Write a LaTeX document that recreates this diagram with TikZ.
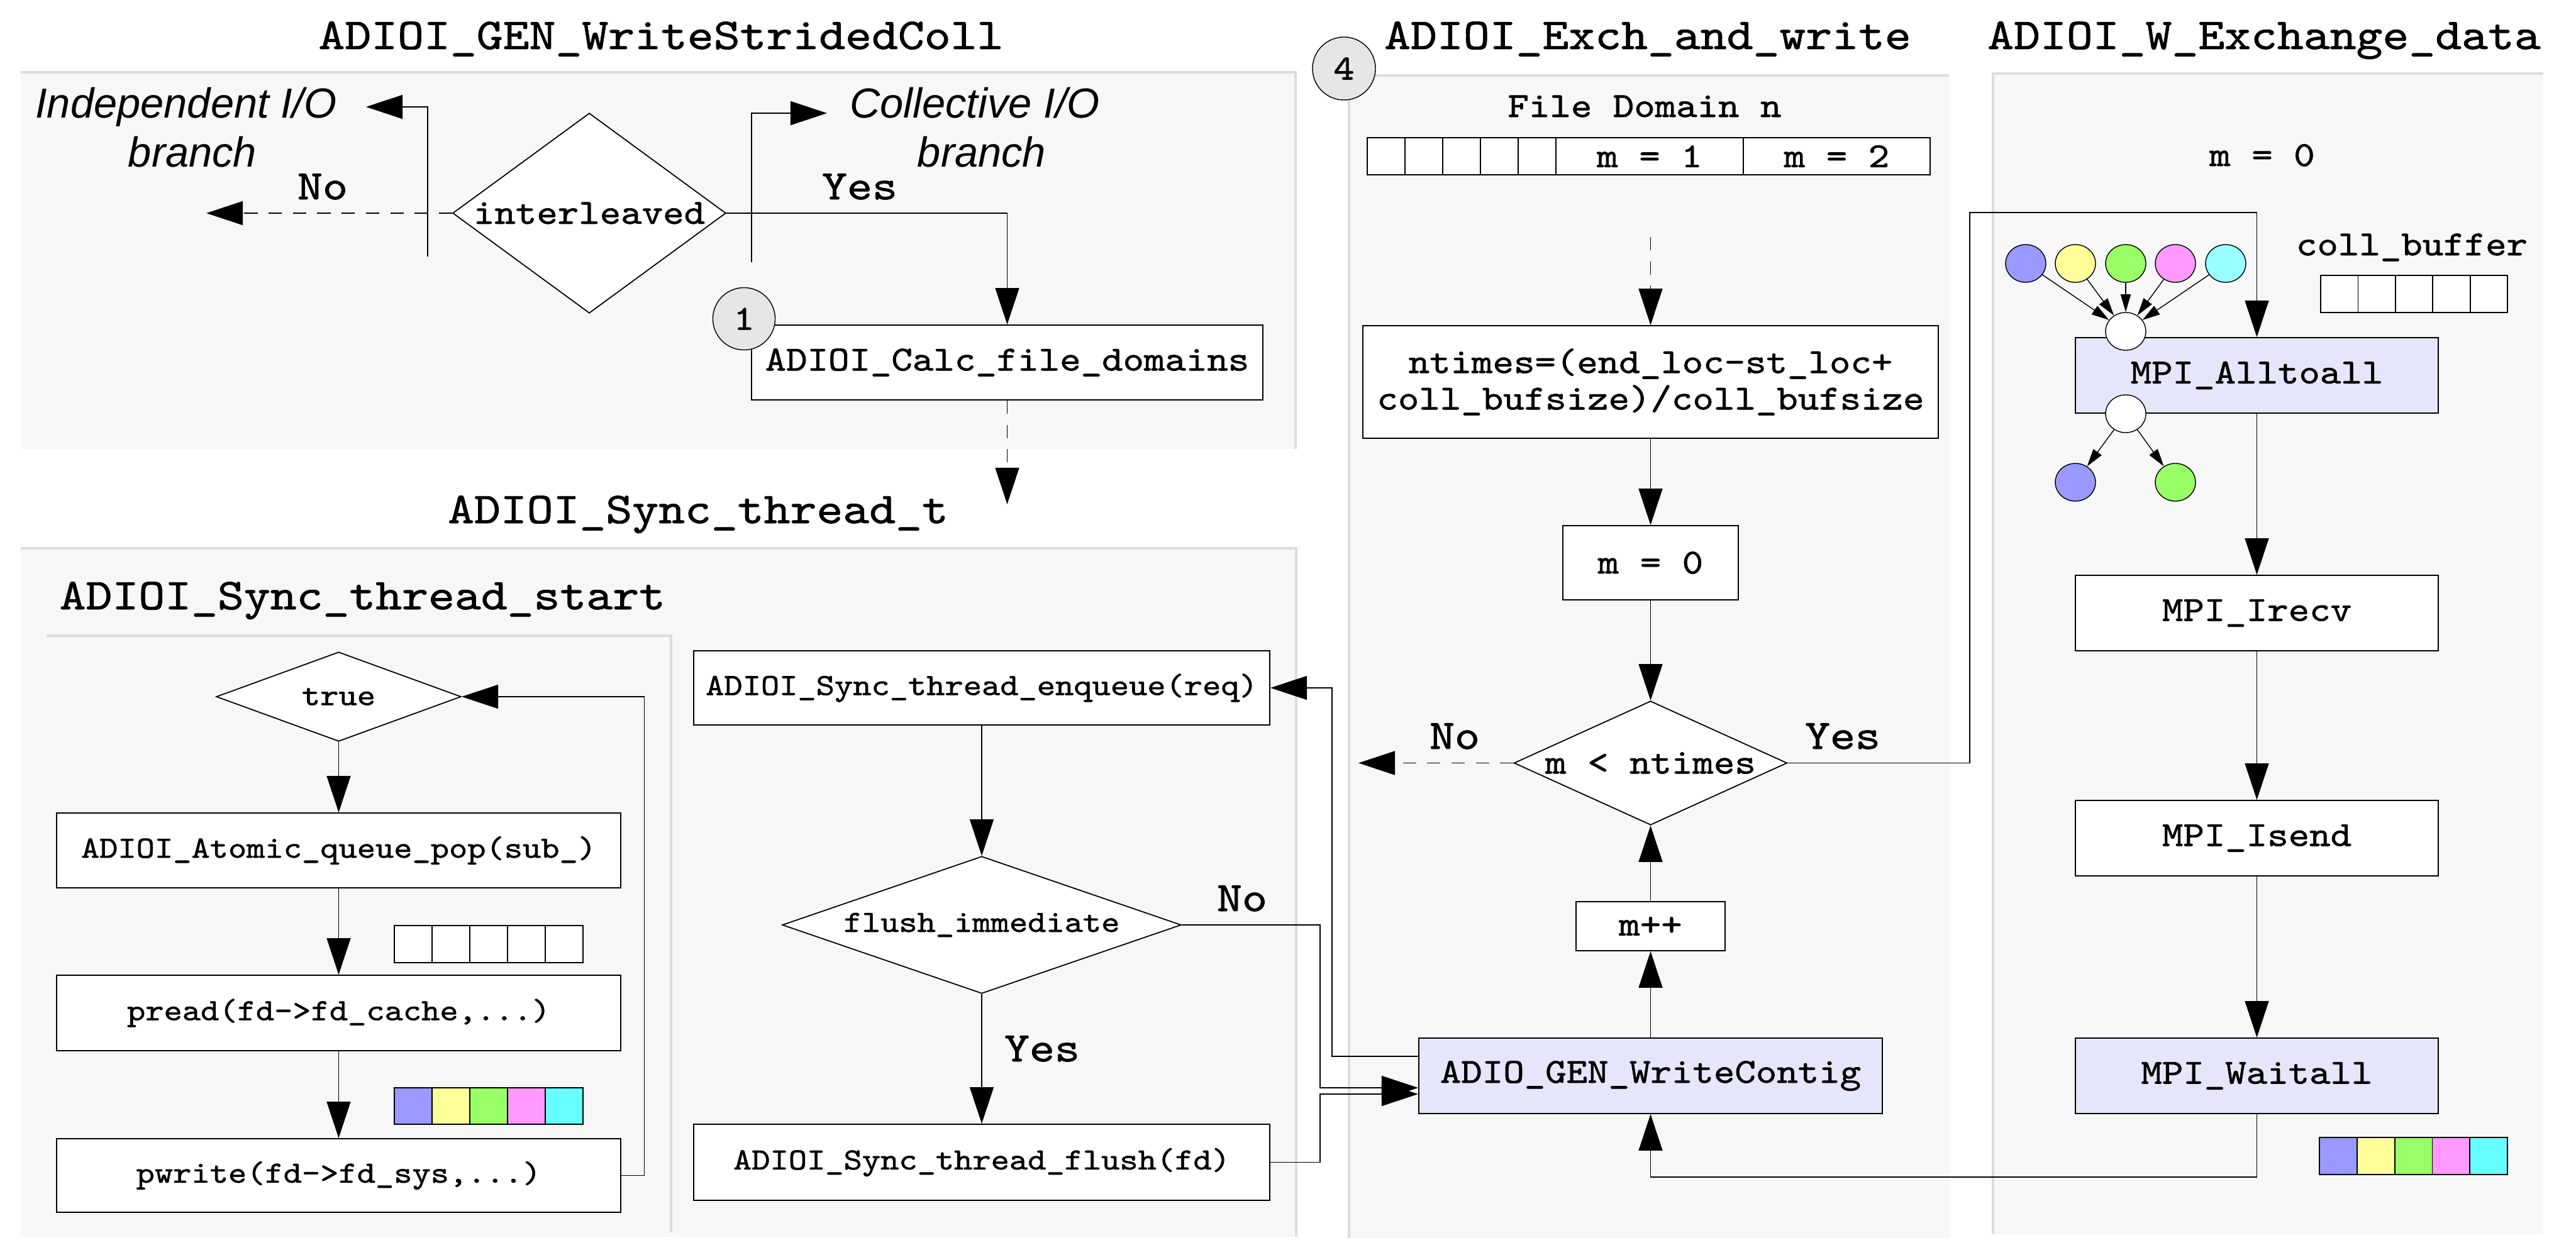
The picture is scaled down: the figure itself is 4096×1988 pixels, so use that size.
\documentclass[tikz,border=0pt]{standalone}
\usepackage{fontspec}
\usetikzlibrary{arrows.meta,shapes.geometric,calc}
\newfontfamily\cour{lmmono10-regular.otf}[FakeStretch=1.14,FakeBold=1.2]
\newfontfamily\helv{Liberation Sans}
\newcommand\bigf{\cour\fontsize{19.9pt}{24pt}\selectfont}
\newcommand\labf{\cour\fontsize{19pt}{23pt}\selectfont}
\newcommand\medf{\cour\fontsize{15.9pt}{16.5pt}\selectfont}
\newcommand\smf{\cour\fontsize{13.9pt}{16pt}\selectfont}
\newcommand\itf{\helv\itshape\fontsize{19pt}{22pt}\selectfont}
\definecolor{panel}{HTML}{F7F7F7}
\definecolor{pline}{HTML}{DCDCDC}
\definecolor{lav}{HTML}{E6E6FA}
\definecolor{cgray}{HTML}{E6E6E6}
\definecolor{cb}{HTML}{9999FF}
\definecolor{cy}{HTML}{FFFF99}
\definecolor{cg}{HTML}{99FF66}
\definecolor{cp}{HTML}{FF99FF}
\definecolor{cc}{HTML}{99FFFF}
\definecolor{ccb}{HTML}{66FFFF}
\begin{document}
\begin{tikzpicture}[x=0.01cm,y=-0.01cm,
  box/.style={draw, line width=0.5pt, fill=white, inner sep=0pt, font=\medf},
  sbox/.style={box, font=\smf},
  lbox/.style={box, fill=lav},
  dia/.style={diamond, draw, line width=0.5pt, fill=white, inner sep=0pt},
  arr/.style={line width=0.45pt, -{Triangle[length=16.5pt,width=10.8pt]}},
  darr/.style={arr, dash pattern=on 6pt off 5pt},
  sarr/.style={line width=0.4pt, -{Triangle[length=8pt,width=4.6pt]}},
  ell/.style={ellipse, draw, line width=0.4pt, inner sep=0pt, minimum width=0.64cm, minimum height=0.6cm},
  numc/.style={circle, draw, line width=0.4pt, fill=cgray, inner sep=0pt, minimum size=0.99cm, font=\medf},
  ttl/.style={font=\bigf, anchor=base, inner sep=0pt},
  lab/.style={font=\labf, anchor=base, inner sep=0pt},
  itl/.style={font=\itf, anchor=base, inner sep=0pt},
  txt/.style={font=\medf, inner sep=0pt},
  cellst/.style={draw, line width=0.5pt},
  pl/.style={draw=pline, line width=1.1pt}]
\useasboundingbox (0,0) rectangle (4096,1988);
% panels
\fill[panel] (33,115) rectangle (2062,714);
\draw[pl] (33,115) -| (2060,714);
\fill[panel] (33,872) rectangle (2062,1967);
\draw[pl] (33,872) -| (2061,1967);
\draw[pl] (74,1011) -| (1067,1960);
\fill[panel] (2145,120) rectangle (3101,1969);
\draw[pl] (3099,120) -| (2145,1969);
\fill[panel] (3169,117) rectangle (4044,1963);
\draw[pl] (4044,117) -| (3169,1963);
% titles
\node[ttl] (t1) at (1051,78) {ADIOI\_GEN\_WriteStridedColl};
\node[ttl] (t2) at (1110,832) {ADIOI\_Sync\_thread\_t};
\node[ttl, anchor=base west] (t3) at (94,969) {ADIOI\_Sync\_thread\_start};
\node[ttl] (t4) at (2620,78) {ADIOI\_Exch\_and\_write};
\node[ttl] (t5) at (3600,78) {ADIOI\_W\_Exchange\_data};
% panel 1
\node[itl] (ind1) at (296,188) {Independent I/O};
\node[itl] (ind2) at (306,266) {branch};
\node[itl] (col1) at (1550,188) {Collective I/O};
\node[itl] (col2) at (1561,266) {branch};
\coordinate (ib) at (680,408); \coordinate (it) at (582,170);
\draw[arr] (ib) |- (it);
\coordinate (cbk) at (1195,417); \coordinate (ct) at (1315,180);
\draw[arr] (cbk) |- (ct);
\node[lab] (no1) at (513,317) {No};
\node[lab] (yes1) at (1367,317) {Yes};
\node[dia, minimum width=4.34cm, minimum height=3.18cm, aspect=1.4, font=\medf] (inter) at (937,339) {interleaved};
\coordinate (nol) at (328,339);
\draw[darr] (inter.west) -- (nol);
\node[box, minimum width=8.13cm, minimum height=1.19cm] (calc) at (1601.5,576.5) {ADIOI\_Calc\_file\_domains};
\node[numc] (n1) at (1183,507) {1};
\draw[arr] (inter.east) -| (calc.north);
\coordinate (cd) at (1601.5,802);
\draw[darr] (calc.south) -- (cd);
% panel 2 left
\node[dia, minimum width=3.89cm, minimum height=1.42cm, aspect=2.74, font=\smf] (true) at (538.5,1108) {true};
\node[sbox, minimum width=8.96cm, minimum height=1.19cm] (pop) at (538.5,1352.5) {ADIOI\_Atomic\_queue\_pop(sub\_)};
\node[sbox, minimum width=8.96cm, minimum height=1.2cm] (pread) at (538.5,1611) {pread(fd->fd\_cache,...)};
\node[sbox, minimum width=8.96cm, minimum height=1.17cm] (pwrite) at (538.5,1869.5) {pwrite(fd->fd\_sys,...)};
\foreach \i in {0,...,4} \draw[cellst, fill=white] (627+60*\i,1472) rectangle ++(60,59);
\foreach \c [count=\i from 0] in {cb,cy,cg,cp,ccb} \draw[cellst, fill=\c] (627+60*\i,1730) rectangle ++(60,58);
\draw[arr] (true.south) -- (pop.north);
\draw[arr] (pop.south) -- (pread.north);
\draw[arr] (pread.south) -- (pwrite.north);
\draw[arr] (pwrite.east) -- ++(37,0) |- (true.east);
% panel 2 right
\node[sbox, minimum width=9.16cm, minimum height=1.18cm] (enq) at (1561,1094) {ADIOI\_Sync\_thread\_enqueue(req)};
\node[dia, minimum width=6.34cm, minimum height=2.18cm, aspect=2.9, font=\smf] (fi) at (1561,1471) {flush\_immediate};
\node[sbox, minimum width=9.16cm, minimum height=1.21cm] (flush) at (1561,1848.5) {ADIOI\_Sync\_thread\_flush(fd)};
\draw[arr] (enq.south) -- (fi.north);
\draw[arr] (fi.south) -- (flush.north);
\node[lab] (no2) at (1975,1449) {No};
\node[lab] (yes2) at (1657,1688) {Yes};
% panel 3
\node[numc, minimum size=1cm] (n4) at (2137,109) {4};
\node[txt, anchor=base] (fdn) at (2615,186) {File Domain n};
\foreach \i in {0,...,4} \draw[cellst, fill=white] (2174+60*\i,219) rectangle ++(60,59);
\node[box, minimum width=2.98cm, minimum height=0.59cm] (m1) at (2623,248.5) {m = 1};
\node[box, minimum width=2.97cm, minimum height=0.59cm] (m2) at (2920.5,248.5) {m = 2};
\coordinate (dt) at (2624.5,377);
\node[box, minimum width=9.15cm, minimum height=1.79cm, align=center] (nt) at (2624.5,607.5) {ntimes=(end\_loc–st\_loc+\\coll\_bufsize)/coll\_bufsize};
\draw[darr] (dt) -- (nt.north);
\node[box, minimum width=2.79cm, minimum height=1.18cm] (m0) at (2624.5,895) {m = 0};
\node[dia, minimum width=4.34cm, minimum height=1.97cm, aspect=2.2, font=\medf] (md) at (2624.5,1213.5) {m < ntimes};
\node[box, minimum width=2.37cm, minimum height=0.78cm] (mpp) at (2624.5,1473) {m++};
\node[lbox, minimum width=7.37cm, minimum height=1.2cm] (wc) at (2624.5,1711) {ADIO\_GEN\_WriteContig};
\draw[arr] (nt.south) -- (m0.north);
\draw[arr] (m0.south) -- (md.north);
\draw[arr] (mpp.north) -- (md.south);
\draw[arr] (wc.north) -- (mpp.south);
\coordinate (mno) at (2160,1213.5);
\draw[darr] (md.west) -- (mno);
\node[lab] (no3) at (2313,1191) {No};
\node[lab] (yes3) at (2930,1191) {Yes};
% panel 4
\node[txt, anchor=base] (m0b) at (3597,264) {m = 0};
\node[txt, anchor=base] (cbl) at (3835,406) {coll\_buffer};
\foreach \i in {0,...,4} \draw[cellst, fill=white] (3690+59.4*\i,438) rectangle ++(59.4,59);
\node[lbox, minimum width=5.77cm, minimum height=1.2cm] (all) at (3588.5,597) {MPI\_Alltoall};
\node[box, minimum width=5.77cm, minimum height=1.2cm] (irecv) at (3588.5,975) {MPI\_Irecv};
\node[box, minimum width=5.77cm, minimum height=1.2cm] (isend) at (3588.5,1333) {MPI\_Isend};
\node[lbox, minimum width=5.77cm, minimum height=1.2cm] (wait) at (3588.5,1711) {MPI\_Waitall};
\foreach \c [count=\i from 0] in {cb,cy,cg,cp,ccb} \draw[cellst, fill=\c] (3688+59.8*\i,1809) rectangle ++(59.8,59);
\node[ell, fill=cb] (e1) at (3221,419) {};
\node[ell, fill=cy] (e2) at (3300,419) {};
\node[ell, fill=cg] (e3) at (3380,419) {};
\node[ell, fill=cp] (e4) at (3459,419) {};
\node[ell, fill=cc] (e5) at (3539,419) {};
\node[ell, fill=white] (hub1) at (3380,527) {};
\node[ell, fill=white] (hub2) at (3380,658) {};
\node[ell, fill=cb] (e6) at (3300,767) {};
\node[ell, fill=cg] (e7) at (3459,767) {};
\foreach \e in {e1,e2,e3,e4,e5} \draw[sarr] (\e) -- (hub1);
\draw[sarr] (hub2) -- (e6);
\draw[sarr] (hub2) -- (e7);
\coordinate (yx) at (3132,338);
\draw[arr] (md.east) -| (yx) -| (all.north);
\draw[arr] (all.south) -- (irecv.north);
\draw[arr] (irecv.south) -- (isend.north);
\draw[arr] (isend.south) -- (wait.north);
\draw[arr] (wait.south) -- ++(0,100) -| (wc.south);
% cross connectors
\coordinate (nx) at (2099,1730);
\draw[arr] (fi.east) -| (nx) -- (nx -| wc.west);
\coordinate (fx) at (2099,1740);
\draw[arr] (flush.east) -| (fx) -- (fx -| wc.west);
\coordinate (ex) at (2118,1680);
\draw[arr] (ex -| wc.west) -- (ex) |- (enq.east);
\end{tikzpicture}
\end{document}
